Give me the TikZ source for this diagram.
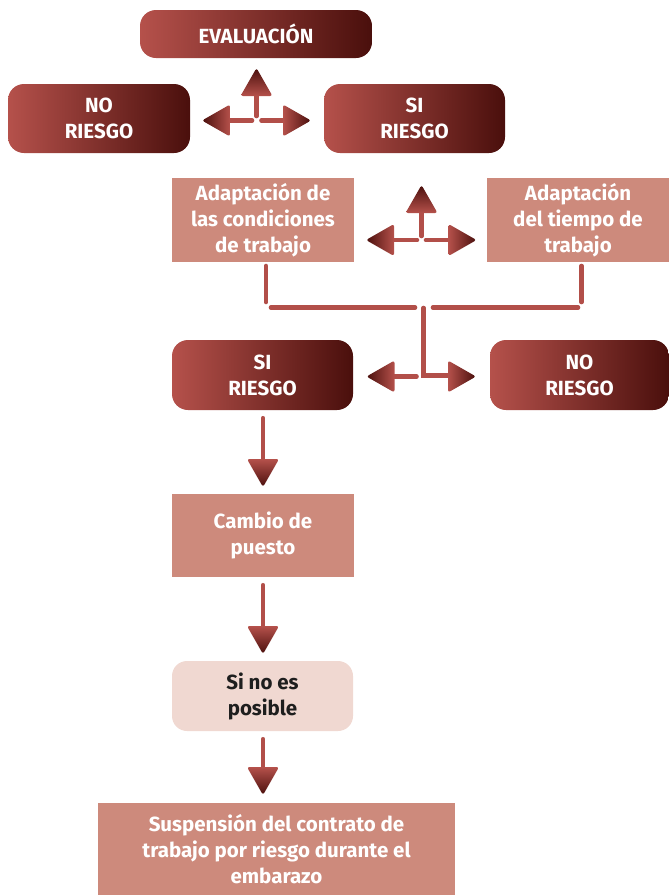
\documentclass[tikz,border=0pt]{standalone}
\usepackage{fontspec}
\setmainfont{Fira Sans}
\usetikzlibrary{calc}
\definecolor{redL}{HTML}{B5514B}
\definecolor{redD}{HTML}{4A0F0C}
\definecolor{boxc}{HTML}{CD8A7C}
\definecolor{pale}{HTML}{F0D8D1}
\definecolor{linec}{HTML}{B24F49}
\definecolor{darktext}{HTML}{1E1E1E}
\newcommand\myDown[1]{\shade[top color=redL,bottom color=redD,rounded corners=2.5pt] ($(#1)+(-16,-28)$) -- (#1) -- ($(#1)+(16,-28)$) -- cycle;}
\newcommand\myUp[1]{\shade[top color=redD,bottom color=redL,rounded corners=2.5pt] ($(#1)+(-16,28)$) -- (#1) -- ($(#1)+(16,28)$) -- cycle;}
\newcommand\myLeft[1]{\shade[left color=redD,right color=redL,rounded corners=2.5pt] ($(#1)+(28,-16)$) -- (#1) -- ($(#1)+(28,16)$) -- cycle;}
\newcommand\myRight[1]{\shade[left color=redL,right color=redD,rounded corners=2.5pt] ($(#1)+(-28,-16)$) -- (#1) -- ($(#1)+(-28,16)$) -- cycle;}
\tikzset{
  txt/.style={font=\fontsize{20.5}{26}\selectfont\bfseries, align=center, inner sep=0pt},
  grad/.style={txt, rounded corners=16pt, left color=redL, right color=redD, text=white},
  flat/.style={txt, fill=boxc, text=white},
  palebox/.style={txt, rounded corners=15pt, fill=pale, text=darktext},
  conn/.style={draw=linec, line width=4.6pt, line cap=round},
}
\begin{document}
\begin{tikzpicture}[x=1pt,y=-1pt]
\useasboundingbox (0,0) rectangle (669,895);
% nodes
\node[grad, minimum width=232pt, minimum height=48pt] (eval) at (256,34) {EVALUACIÓN};
\node[grad, minimum width=182pt, minimum height=69pt] (no1) at (99,118.5) {NO\\RIESGO};
\node[grad, minimum width=181pt, minimum height=69pt] (si1) at (414.5,118.5) {SI\\RIESGO};
\node[flat, minimum width=182pt, minimum height=84pt] (ad1) at (263,220) {Adaptación de\\las condiciones\\de trabajo};
\node[flat, minimum width=182pt, minimum height=84pt] (ad2) at (578,220) {Adaptación\\del tiempo de\\trabajo};
\node[grad, minimum width=181pt, minimum height=70pt] (si2) at (262.5,375) {SI\\RIESGO};
\node[grad, minimum width=179pt, minimum height=70pt] (no2) at (579.5,375) {NO\\RIESGO};
\node[flat, minimum width=182pt, minimum height=83pt] (cambio) at (263,535.5) {Cambio de\\puesto};
\node[palebox, minimum width=181pt, minimum height=70pt] (sino) at (262.5,696) {Si no es\\posible};
\node[flat, minimum width=357pt, minimum height=92pt] (susp) at (276.5,849) {Suspensión del contrato de\\trabajo por riesgo durante el\\embarazo};
% top three-way arrow
\coordinate (t1u) at (256.5,68);
\coordinate (t1l) at (202,120.5);
\coordinate (t1r) at (311,120.5);
\draw[conn] ($(t1u)+(0,28)$) -- ($(t1u)+(0,48)$);
\draw[conn] ($(t1l)+(28,0)$) -- ($(t1l)+(50,0)$);
\draw[conn] ($(t1r)+(-28,0)$) -- ($(t1r)+(-49.5,0)$);
\myUp{t1u}\myLeft{t1l}\myRight{t1r}
% middle three-way arrow
\coordinate (t2u) at (421.5,185);
\coordinate (t2l) at (366,240);
\coordinate (t2r) at (476.5,240);
\draw[conn] ($(t2u)+(0,28)$) -- ($(t2u)+(0,51)$);
\draw[conn] ($(t2l)+(28,0)$) -- ($(t2l)+(51,0)$);
\draw[conn] ($(t2r)+(-28,0)$) -- ($(t2r)+(-50.5,0)$);
\myUp{t2u}\myLeft{t2l}\myRight{t2r}
% merge lines
\coordinate (mA) at (266,266);
\coordinate (mB) at (266,302);
\coordinate (mC) at (581.5,266);
\coordinate (mD) at (581.5,302);
\coordinate (hL1) at (271,307.5);
\coordinate (hL2) at (415,307.5);
\coordinate (hR1) at (433,307.5);
\coordinate (hR2) at (578,307.5);
\coordinate (vC1) at (423.5,308);
\coordinate (vC2) at (423.5,375.5);
\draw[conn] (mA) -- (mB);
\draw[conn] (mC) -- (mD);
\draw[conn] (hL1) -- (hL2);
\draw[conn] (hR1) -- (hR2);
% bottom split
\coordinate (t3l) at (366.5,376.5);
\coordinate (t3r) at (476,376.5);
\draw[conn] (vC1) -- (vC2) -- ($(t3r)+(-28,-1)$);
\draw[conn] ($(t3l)+(28,0)$) -- ($(t3l)+(50,0)$);
\myLeft{t3l}\myRight{t3r}
% down arrows
\coordinate (d1) at (263,487);
\coordinate (d2) at (263,654);
\coordinate (d3) at (263,795);
\draw[conn] ($(si2.south)+(0.5,8)$) -- ($(d1)+(0,-28)$);
\draw[conn] ($(cambio.south)+(0,8)$) -- ($(d2)+(0,-28)$);
\draw[conn] ($(sino.south)+(0.5,8)$) -- ($(d3)+(0,-28)$);
\myDown{d1}\myDown{d2}\myDown{d3}
\end{tikzpicture}
\end{document}
